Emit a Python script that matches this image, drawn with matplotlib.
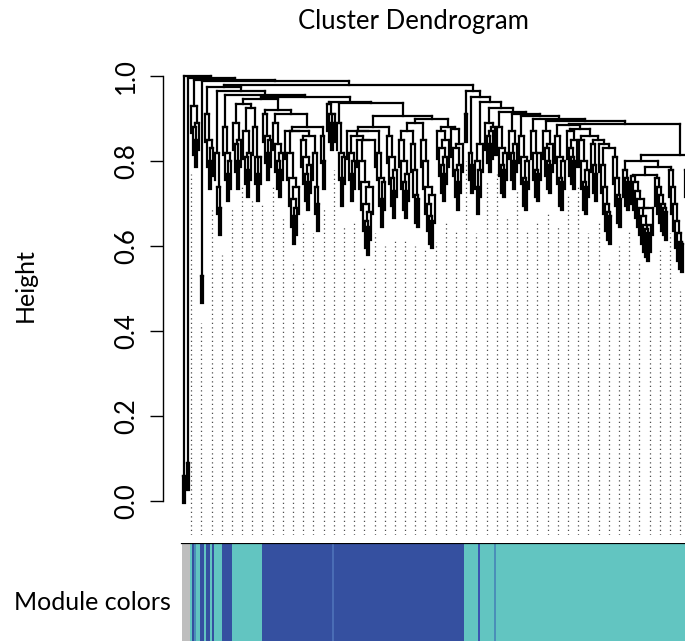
import sys
import matplotlib
matplotlib.use("Agg")
import matplotlib.pyplot as plt
from matplotlib.collections import LineCollection
from matplotlib.patches import Rectangle
import numpy as np

plt.rcParams['font.family'] = ['Lato', 'DejaVu Sans']

# ---------------- data ----------------
# Dendrogram: merge heights between neighbouring leaves (left to right),
# given per branch (internal) and between consecutive branches (joins).
b00 = [0.06]
b01 = [0.09]
b02 = [0.93, 0.88, 0.85, 0.89]
b03 = [0.53]
b04 = [0.91, 0.85, 0.80, 0.83]
b05 = [0.82, 0.74, 0.69]
b06 = [0.88, 0.82, 0.77, 0.80]
b07 = [0.89, 0.84, 0.80, 0.85]
b08 = [0.87, 0.81, 0.78, 0.82]
b09 = [0.88, 0.81, 0.77, 0.81]
b10 = [0.91, 0.86, 0.82, 0.85]
b11 = [0.89, 0.84, 0.80, 0.78, 0.82]
b12 = [0.87, 0.82, 0.76, 0.71, 0.67, 0.69, 0.74]
b13 = [0.85, 0.81, 0.77, 0.75, 0.79]
b14 = [0.82, 0.74, 0.70]
b15 = [0.86, 0.80]
b16 = [0.935, 0.91, 0.89, 0.91]
b17 = [0.89, 0.82, 0.76, 0.81]
b18 = [0.87, 0.82, 0.77, 0.80]
b19 = [0.85, 0.80, 0.75, 0.70, 0.66, 0.645, 0.68, 0.74]
b20 = [0.87, 0.82, 0.76, 0.71, 0.75]
b21 = [0.86, 0.81, 0.76, 0.73, 0.78]
b22 = [0.85, 0.80, 0.75, 0.73, 0.77]
b23 = [0.84, 0.78, 0.72, 0.71]
b24 = [0.85, 0.80, 0.74, 0.70, 0.67, 0.66, 0.72]
b25 = [0.87, 0.83, 0.79, 0.77, 0.81, 0.85]
b26 = [0.875, 0.83, 0.78, 0.75, 0.79, 0.84]
b27 = [0.91]
b28 = [0.82, 0.79]
b29 = [0.80, 0.74, 0.78, 0.84]
b30 = [0.89, 0.86, 0.84, 0.87, 0.88]
b31 = [0.88, 0.83, 0.79, 0.78, 0.82]
b32 = [0.87, 0.82, 0.80, 0.84]
b33 = [0.86, 0.81, 0.76, 0.75, 0.80]
b34 = [0.87, 0.82, 0.78, 0.77, 0.82]
b35 = [0.87, 0.83, 0.80, 0.79, 0.84]
b36 = [0.86, 0.81, 0.76, 0.75, 0.80]
b37 = [0.87, 0.83, 0.81, 0.80, 0.85]
b38 = [0.85, 0.80, 0.75, 0.74, 0.78]
b39 = [0.84, 0.79, 0.77]
b40 = [0.84, 0.79, 0.74, 0.70, 0.68, 0.67]
b41 = [0.81, 0.76, 0.72, 0.71]
b42 = [0.78, 0.76, 0.75]
b43 = [0.765, 0.75, 0.73, 0.71, 0.69, 0.67, 0.65, 0.64, 0.63, 0.65, 0.69]
b44 = [0.76, 0.74, 0.72, 0.70, 0.69, 0.68]
b45 = [0.78, 0.74, 0.70, 0.66, 0.63, 0.61, 0.605]
b46 = [0.78, 0.74, 0.70, 0.66, 0.63, 0.61, 0.62, 0.66, 0.70, 0.74, 0.77]
b47 = [0.76, 0.72, 0.68, 0.65, 0.63, 0.64, 0.67, 0.71, 0.75, 0.78, 0.80]
branches = [b00, b01, b02, b03, b04, b05, b06, b07, b08, b09, b10, b11, b12,
            b13, b14, b15, b16, b17, b18, b19, b20, b21, b22, b23, b24, b25,
            b26, b27, b28, b29, b30, b31, b32, b33, b34, b35, b36, b37, b38,
            b39, b40, b41, b42, b43, b44, b45, b46, b47]
joins = [1.00, 0.995, 0.99, 0.988, 0.975, 0.965, 0.955, 0.935, 0.925, 0.945,
         0.92, 0.91, 0.87, 0.86, 0.88, 0.95, 0.94, 0.936, 0.86, 0.85, 0.88,
         0.905, 0.87, 0.89, 0.90, 0.88, 0.979, 0.965, 0.95, 0.94, 0.925,
         0.915, 0.91, 0.905, 0.90, 0.895, 0.885, 0.875, 0.86, 0.85, 0.83,
         0.887, 0.80, 0.767, 0.786, 0.814, 0.79]

# Module colour bar: runs of leaves
module_colors = ["#BEBEBE", "#62C5C1", "#3550A0", "#4A8FB8", "#62C5C1",
                 "#3550A0", "#62C5C1", "#3550A0", "#62C5C1", "#3550A0",
                 "#62C5C1", "#3550A0", "#62C5C1", "#3550A0", "#4A6DB5",
                 "#3550A0", "#62C5C1", "#3B55B0", "#62C5C1", "#4A8FB8",
                 "#62C5C1"]
module_counts = [4, 1, 1, 1, 2, 2, 1, 2, 1, 1, 4, 5, 15, 35, 1, 65, 7, 1, 7, 1,
                 118]

yticks = [0.0, 0.2, 0.4, 0.6, 0.8, 1.0]
ytick_labels = ["0.0", "0.2", "0.4", "0.6", "0.8", "1.0"]

# ---------------- build gaps ----------------
gaps = []
for i, b in enumerate(branches):
    gaps.extend(b)
    if i < len(joins):
        gaps.append(joins[i])
gaps = np.array(gaps)
N = len(gaps) + 1

hang = 0.065
segs = []
leaf_h = np.zeros(N)
sys.setrecursionlimit(10000)


def build(lo, hi):
    if lo == hi:
        return float(lo), None
    k = lo + int(np.argmax(gaps[lo:hi]))
    h = gaps[k]
    xl, hl = build(lo, k)
    xr, hr = build(k + 1, hi)
    segs.append([(xl, h), (xr, h)])
    for x, hc in ((xl, hl), (xr, hr)):
        if hc is None:
            segs.append([(x, h), (x, h - hang)])
            leaf_h[int(x)] = h
        else:
            segs.append([(x, h), (x, hc)])
    return (xl + xr) / 2.0, h


build(0, N - 1)

# ---------------- figure ----------------
W, H = 685, 641
fig = plt.figure(figsize=(W / 100, H / 100), dpi=100)

x_left_px, x_right_px = 163, 685
xlim = (-10, (x_right_px - 183) / 2.0)
ymin_val, ymax_val = -0.08, 1.0212
ax = fig.add_axes([x_left_px / W, (H - 535) / H, (x_right_px - x_left_px) / W,
                   (535 - 67) / H])
ax.set_xlim(*xlim)
ax.set_ylim(ymin_val, ymax_val)

ax.add_collection(LineCollection(segs, colors="black", linewidths=1.6,
                                 capstyle="projecting"))

# guide lines (dotted)
guide_count = 54
positions = np.arange(1, guide_count + 1) * N / guide_count
guide_hang = 0.1 * (ymax_val - ymin_val)
obj = leaf_h - guide_hang
obj[obj < ymin_val] = ymin_val
for p in positions:
    fi = int(np.floor(p)) - 1
    ci = min(int(np.ceil(p)) - 1, N - 1)
    top = min(obj[fi], obj[ci])
    ax.plot([p - 1, p - 1], [ymin_val, top], color="#4D4D4D", lw=0.9,
            linestyle=(0, (1, 2.6)), solid_capstyle="butt")

for s in ["top", "right", "bottom"]:
    ax.spines[s].set_visible(False)
ax.spines["left"].set_bounds(0, 1)
ax.spines["left"].set_linewidth(1.0)
ax.set_xticks([])
ax.set_yticks(yticks)
ax.set_yticklabels(ytick_labels, rotation=90, va="center", fontsize=18.5)
ax.tick_params(axis="y", length=9.4, width=1.0, pad=8)

# colour bar
cax = fig.add_axes([x_left_px / W, 0, (x_right_px - x_left_px) / W, (H - 543) / H])
cax.set_xlim(*xlim)
cax.set_ylim(0, 1)
start = 0
for c, n in zip(module_colors, module_counts):
    cax.add_patch(Rectangle((start - 0.5, 0), n, 1, facecolor=c, edgecolor="none"))
    start += n
cax.plot([-0.5, N - 0.5], [1, 1], color="black", lw=1.6)
cax.axis("off")

fig.text(413 / W, 1 - 22 / H, "Cluster Dendrogram", ha="center", va="center",
         fontsize=18.5)
fig.text(25 / W, 1 - 285 / H, "Height", ha="center", va="center",
         rotation=90, fontsize=18)
fig.text(14 / W, 1 - 602 / H, "Module colors", ha="left", va="center",
         fontsize=18)

fig.savefig("out.png", dpi=100)
